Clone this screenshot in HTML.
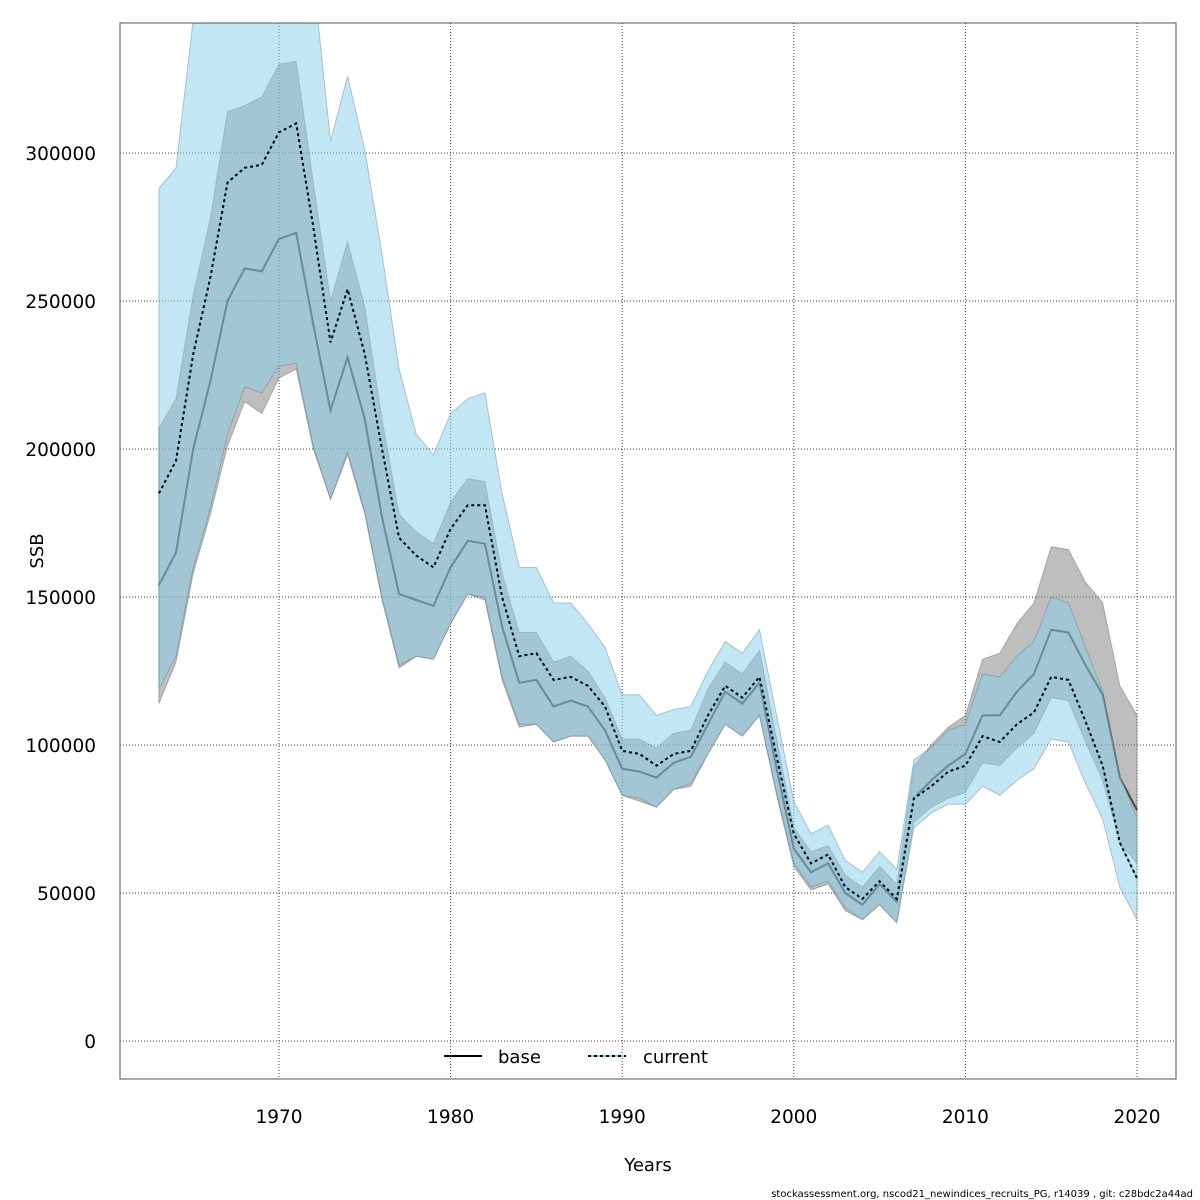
<!DOCTYPE html>
<html><head><meta charset="utf-8"><style>
html,body{margin:0;padding:0;background:#fff;}
svg{display:block;font-family:"DejaVu Sans","Liberation Sans",sans-serif;}
</style></head><body>
<svg id="chart" width="1200" height="1200" viewBox="0 0 1200 1200" xmlns="http://www.w3.org/2000/svg">
<defs><clipPath id="pc"><rect x="120" y="23" width="1056" height="1056"/></clipPath></defs>
<g id="grid"></g>
<g id="bands" clip-path="url(#pc)"></g>
<rect x="120" y="23" width="1056" height="1056" fill="none" stroke="#555" stroke-width="1"/>
<g id="axes"></g>
<text x="43" y="551" font-size="18" text-anchor="middle" transform="rotate(-90 43 551)">SSB</text>
<text x="648" y="1171" font-size="18" text-anchor="middle">Years</text>
<g>
<g>
<line x1="444" y1="1056" x2="482" y2="1056" stroke="#000" stroke-width="2"/>
<text x="498" y="1063" font-size="18">base</text></g>
<g>
<line x1="588" y1="1056" x2="626" y2="1056" stroke="#87ceeb" stroke-width="2"/>
<line x1="588" y1="1056" x2="626" y2="1056" stroke="#000" stroke-width="2" stroke-dasharray="3,3"/>
<text x="643" y="1063" font-size="18">current</text></g>
</g>
<text x="1193" y="1197" font-size="10" text-anchor="end">stockassessment.org, nscod21_newindices_recruits_PG, r14039 , git: c28bdc2a44ad</text>
</svg>
<script>
const years = [];
for (let y = 1963; y <= 2020; y++) years.push(y);
const baseSSB = [154,165,200,223,250,261,260,271,273,242,213,231,210,177,151,149,147,160,169,168,140,121,122,113,115,113,105,92,91,89,94,96,107,118,114,121,92,65,57,60,50,46,53,47,82,88,93,97,110,110,118,124,139,138,127,117,89,78];
const baseLow = [114,128,158,178,201,216,212,224,227,200,183,198,178,149,126,130,129,141,151,149,122,106,107,101,103,103,95,83,81,79,85,86,97,107,103,110,83,59,51,53,44,41,46,40,74,79,82,84,94,93,99,104,116,115,101,88,67,60];
const baseHigh = [207,217,252,278,314,316,319,330,331,290,250,270,248,210,178,172,168,182,190,189,158,138,138,128,130,125,116,102,102,99,104,105,119,128,124,132,102,72,64,66,56,52,59,53,93,100,106,110,129,131,141,148,167,166,155,148,120,110];
const curSSB = [185,196,232,258,290,295,296,307,310,275,236,254,232,200,170,164,160,173,181,181,150,130,131,122,123,120,113,98,97,93,97,98,110,120,116,123,96,70,60,63,52,48,54,48,82,86,91,93,103,101,107,111,123,122,108,93,67,55];
const curLow = [119,130,160,180,205,221,219,228,229,201,183,199,179,150,127,130,129,141,151,150,123,107,107,101,103,103,95,83,82,79,85,87,97,107,103,110,84,60,52,54,45,41,46,40,72,77,80,80,86,83,88,92,102,101,87,75,52,41];
const curHigh = [288,295,345,375,390,395,400,410,390,360,304,326,301,266,227,205,198,212,217,219,185,160,160,148,148,141,133,117,117,110,112,113,125,135,131,139,110,81,70,73,61,57,64,58,95,99,105,107,124,123,130,135,150,148,133,118,90,75];
const yTicks = [0,50000,100000,150000,200000,250000,300000];
const xTicks = [1970,1980,1990,2000,2010,2020];

const NS = "http://www.w3.org/2000/svg";
const X = yr => 279 + (yr - 1970) * 17.16;
const Y = v => 1041 - v / 50000 * 148;
const K = v => Y(v * 1000);
function mk(tag, attrs, parent) { const e = document.createElementNS(NS, tag); for (const k in attrs) e.setAttribute(k, attrs[k]); parent.appendChild(e); return e; }
const grid = document.getElementById('grid'), axes = document.getElementById('axes'), bands = document.getElementById('bands');

yTicks.forEach(t => {
  const l = mk('line', {x1:120, x2:1176, y1:Y(t), y2:Y(t), stroke:'#444', 'stroke-width':1, 'stroke-dasharray':'1,2'}, grid);
  
  
  const tx = mk('text', {x:96, y:Y(t)+7, 'font-size':18.5, 'text-anchor':'end'}, axes);
  tx.textContent = String(t);
  
  
});
xTicks.forEach(t => {
  const l = mk('line', {x1:X(t), x2:X(t), y1:23, y2:1079, stroke:'#444', 'stroke-width':1, 'stroke-dasharray':'1,2'}, grid);
  
  
  const tx = mk('text', {x:X(t), y:1123, 'font-size':18.5, 'text-anchor':'middle'}, axes);
  tx.textContent = String(t);
  
  
});

function bandPath(lo, hi) {
  let d = '';
  years.forEach((yr, i) => { d += (i ? 'L' : 'M') + X(yr).toFixed(1) + ',' + K(hi[i]).toFixed(1); });
  for (let i = years.length - 1; i >= 0; i--) d += 'L' + X(years[i]).toFixed(1) + ',' + K(lo[i]).toFixed(1);
  return d + 'Z';
}
function linePts(v) { return years.map((yr, i) => X(yr).toFixed(1) + ',' + K(v[i]).toFixed(1)).join(' '); }

const gb = mk('path', {d: bandPath(baseLow, baseHigh), fill:'rgba(125,125,125,0.5)', stroke:'rgba(90,90,90,0.4)', 'stroke-width':1}, bands);


const bl = mk('polyline', {points: linePts(baseSSB), fill:'none', stroke:'#222', 'stroke-width':2, 'stroke-opacity':0.75}, bands);


const cb = mk('path', {d: bandPath(curLow, curHigh), fill:'rgba(135,206,235,0.5)', stroke:'rgba(90,120,140,0.4)', 'stroke-width':1}, bands);


const cl1 = mk('polyline', {points: linePts(curSSB), fill:'none', stroke:'#87ceeb', 'stroke-width':2}, bands);


const cl = mk('polyline', {points: linePts(curSSB), fill:'none', stroke:'#000', 'stroke-width':2, 'stroke-dasharray':'3,3'}, bands);


</script>
</body></html>
